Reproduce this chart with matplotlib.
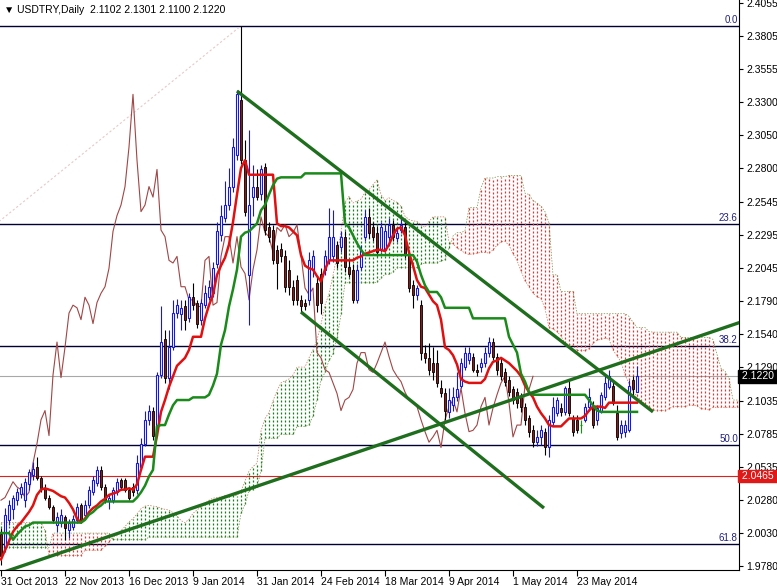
import numpy as np
import matplotlib.pyplot as plt
from matplotlib.transforms import blended_transform_factory

plt.rcParams['font.family'] = ['Liberation Sans', 'DejaVu Sans']

# daily bars, 31 Oct 2013 .. 13 Jun 2014 (bar index 0..159)
opens = [2.002, 1.992, 2.013, 2.021, 2.028, 2.033, 2.028, 2.040, 2.047, 2.053,
         2.045, 2.037, 2.030, 2.023, 2.009, 2.011, 2.015, 2.005, 2.008, 2.013,
         2.024, 2.017, 2.024, 2.034, 2.041, 2.051, 2.038, 2.027, 2.028, 2.034,
         2.043, 2.043, 2.036, 2.038, 2.036, 2.053, 2.071, 2.089, 2.096, 2.081,
         2.123, 2.150, 2.121, 2.144, 2.170, 2.169, 2.175, 2.166, 2.182, 2.178,
         2.165, 2.176, 2.182, 2.185, 2.207, 2.229, 2.242, 2.252, 2.266, 2.290,
         2.332, 2.286, 2.199, 2.258, 2.266, 2.260, 2.281, 2.235, 2.233, 2.218,
         2.219, 2.213, 2.203, 2.190, 2.195, 2.180, 2.178, 2.180, 2.203, 2.193,
         2.200, 2.203, 2.210, 2.213, 2.222, 2.220, 2.228, 2.205, 2.203, 2.180,
         2.205, 2.228, 2.243, 2.235, 2.231, 2.218, 2.218, 2.228, 2.237, 2.227,
         2.233, 2.235, 2.213, 2.191, 2.184, 2.176, 2.140, 2.136, 2.132, 2.132,
         2.113, 2.109, 2.095, 2.100, 2.106, 2.115, 2.129, 2.134, 2.137, 2.127,
         2.129, 2.132, 2.140, 2.148, 2.137, 2.132, 2.125, 2.119, 2.112, 2.110,
         2.106, 2.099, 2.090, 2.081, 2.072, 2.076, 2.080, 2.068, 2.087, 2.094,
         2.098, 2.095, 2.113, 2.090, 2.089, 2.085, 2.089, 2.099, 2.099, 2.089,
         2.096, 2.106, 2.114, 2.115, 2.094, 2.079, 2.080, 2.081, 2.119, 2.1102]
highs = [2.007, 2.022, 2.028, 2.032, 2.037, 2.041, 2.045, 2.052, 2.057, 2.061,
         2.046, 2.040, 2.032, 2.024, 2.019, 2.021, 2.017, 2.014, 2.017, 2.026,
         2.026, 2.028, 2.039, 2.046, 2.054, 2.054, 2.040, 2.032, 2.038, 2.045,
         2.045, 2.045, 2.038, 2.041, 2.062, 2.075, 2.096, 2.100, 2.099, 2.125,
         2.175, 2.157, 2.157, 2.180, 2.181, 2.180, 2.180, 2.185, 2.193, 2.180,
         2.181, 2.191, 2.195, 2.209, 2.239, 2.252, 2.270, 2.280, 2.303, 2.339,
         2.388, 2.301, 2.309, 2.282, 2.279, 2.282, 2.284, 2.239, 2.237, 2.222,
         2.223, 2.218, 2.210, 2.195, 2.199, 2.184, 2.181, 2.216, 2.218, 2.197,
         2.204, 2.218, 2.250, 2.248, 2.225, 2.232, 2.232, 2.210, 2.207, 2.207,
         2.222, 2.248, 2.250, 2.239, 2.236, 2.239, 2.237, 2.242, 2.241, 2.235,
         2.242, 2.239, 2.216, 2.195, 2.191, 2.180, 2.146, 2.147, 2.144, 2.142,
         2.119, 2.113, 2.113, 2.114, 2.125, 2.136, 2.144, 2.144, 2.140, 2.131,
         2.136, 2.144, 2.152, 2.151, 2.140, 2.136, 2.128, 2.122, 2.115, 2.113,
         2.109, 2.102, 2.093, 2.085, 2.081, 2.085, 2.083, 2.093, 2.106, 2.106,
         2.102, 2.115, 2.119, 2.093, 2.093, 2.089, 2.102, 2.113, 2.103, 2.100,
         2.110, 2.122, 2.127, 2.119, 2.100, 2.089, 2.089, 2.119, 2.122, 2.1301]
lows = [1.979, 1.989, 2.009, 2.014, 2.024, 2.030, 2.023, 2.036, 2.043, 2.043,
        2.034, 2.028, 2.021, 2.011, 2.004, 2.008, 1.998, 1.999, 2.005, 2.011,
        2.011, 2.014, 2.022, 2.032, 2.039, 2.036, 2.026, 2.021, 2.026, 2.032,
        2.036, 2.034, 2.028, 2.031, 2.033, 2.051, 2.069, 2.085, 2.074, 2.077,
        2.121, 2.117, 2.112, 2.142, 2.166, 2.157, 2.157, 2.163, 2.172, 2.159,
        2.161, 2.174, 2.180, 2.182, 2.204, 2.225, 2.239, 2.248, 2.262, 2.286,
        2.283, 2.244, 2.161, 2.244, 2.256, 2.256, 2.229, 2.224, 2.207, 2.188,
        2.209, 2.186, 2.184, 2.176, 2.176, 2.171, 2.172, 2.176, 2.197, 2.171,
        2.169, 2.199, 2.207, 2.209, 2.204, 2.216, 2.201, 2.197, 2.178, 2.178,
        2.203, 2.225, 2.227, 2.225, 2.213, 2.216, 2.216, 2.225, 2.225, 2.224,
        2.231, 2.212, 2.186, 2.174, 2.180, 2.134, 2.132, 2.123, 2.119, 2.114,
        2.106, 2.089, 2.090, 2.096, 2.103, 2.113, 2.127, 2.131, 2.125, 2.122,
        2.125, 2.129, 2.137, 2.134, 2.123, 2.119, 2.115, 2.107, 2.101, 2.098,
        2.095, 2.085, 2.076, 2.068, 2.069, 2.070, 2.062, 2.061, 2.085, 2.092,
        2.092, 2.093, 2.092, 2.077, 2.079, 2.079, 2.087, 2.096, 2.083, 2.085,
        2.094, 2.104, 2.112, 2.100, 2.074, 2.075, 2.076, 2.080, 2.108, 2.1100]
closes = [1.986, 2.017, 2.024, 2.030, 2.034, 2.038, 2.042, 2.049, 2.052, 2.045,
          2.037, 2.030, 2.023, 2.013, 2.015, 2.017, 2.007, 2.011, 2.014, 2.023,
          2.013, 2.024, 2.036, 2.043, 2.051, 2.038, 2.028, 2.030, 2.036, 2.042,
          2.038, 2.036, 2.030, 2.034, 2.056, 2.071, 2.089, 2.096, 2.077, 2.123,
          2.148, 2.121, 2.144, 2.170, 2.176, 2.174, 2.165, 2.182, 2.176, 2.162,
          2.178, 2.185, 2.190, 2.204, 2.232, 2.244, 2.252, 2.266, 2.296, 2.336,
          2.286, 2.247, 2.252, 2.266, 2.258, 2.279, 2.233, 2.228, 2.210, 2.208,
          2.213, 2.190, 2.190, 2.180, 2.180, 2.175, 2.175, 2.210, 2.213, 2.176,
          2.178, 2.213, 2.228, 2.228, 2.208, 2.228, 2.205, 2.200, 2.180, 2.203,
          2.218, 2.243, 2.231, 2.228, 2.216, 2.235, 2.232, 2.237, 2.228, 2.231,
          2.237, 2.214, 2.189, 2.184, 2.189, 2.140, 2.136, 2.127, 2.125, 2.117,
          2.109, 2.096, 2.104, 2.106, 2.112, 2.132, 2.140, 2.140, 2.127, 2.125,
          2.132, 2.140, 2.148, 2.137, 2.127, 2.122, 2.118, 2.110, 2.104, 2.102,
          2.099, 2.089, 2.080, 2.072, 2.076, 2.081, 2.068, 2.089, 2.099, 2.104,
          2.095, 2.113, 2.094, 2.080, 2.081, 2.085, 2.099, 2.106, 2.085, 2.098,
          2.108, 2.117, 2.122, 2.102, 2.076, 2.085, 2.085, 2.115, 2.112, 2.1220]

# Ichimoku lines
tenkan = [1.983, 1.990, 1.997, 2.004, 2.008, 2.011, 2.015, 2.019, 2.024, 2.032,
          2.036, 2.037, 2.036, 2.035, 2.033, 2.031, 2.030, 2.026, 2.021, 2.014,
          2.011, 2.014, 2.019, 2.022, 2.024, 2.027, 2.029, 2.032, 2.033, 2.034,
          2.036, 2.036, 2.037, 2.036, 2.040, 2.051, 2.061, 2.061, 2.061, 2.077,
          2.095, 2.104, 2.114, 2.122, 2.130, 2.133, 2.136, 2.142, 2.152, 2.152,
          2.152, 2.166, 2.176, 2.184, 2.199, 2.206, 2.212, 2.222, 2.239, 2.260,
          2.280, 2.286, 2.275, 2.275, 2.275, 2.275, 2.275, 2.275, 2.275, 2.238,
          2.236, 2.236, 2.235, 2.232, 2.229, 2.214, 2.206, 2.204, 2.203, 2.198,
          2.194, 2.203, 2.210, 2.210, 2.210, 2.210, 2.210, 2.210, 2.210, 2.212,
          2.213, 2.215, 2.216, 2.217, 2.218, 2.218, 2.217, 2.222, 2.229, 2.234,
          2.235, 2.229, 2.216, 2.206, 2.195, 2.190, 2.189, 2.184, 2.179, 2.176,
          2.165, 2.144, 2.142, 2.138, 2.131, 2.120, 2.118, 2.117, 2.117, 2.117,
          2.117, 2.120, 2.128, 2.133, 2.134, 2.136, 2.134, 2.132, 2.129, 2.126,
          2.122, 2.115, 2.110, 2.106, 2.099, 2.094, 2.090, 2.085, 2.084, 2.084,
          2.084, 2.087, 2.090, 2.090, 2.090, 2.090, 2.092, 2.096, 2.099, 2.099,
          2.099, 2.098, 2.102, 2.102, 2.102, 2.102, 2.102, 2.102, 2.102, 2.102]
kijun = ([2.003, 2.003, 2.003, 1.998, 2.002, 2.005, 2.008, 2.009] + [2.011] * 13 +
         [2.013, 2.017, 2.019, 2.022, 2.024] + [2.027] * 8 +
         [2.030, 2.034, 2.039, 2.046, 2.051, 2.084, 2.085, 2.085, 2.093, 2.100] +
         [2.104] * 4 + [2.106] * 4 +
         [2.108, 2.115, 2.124, 2.146, 2.157, 2.175, 2.188, 2.203,
          2.228, 2.231, 2.232, 2.235, 2.238, 2.248, 2.252, 2.260, 2.267, 2.272] +
         [2.273] * 6 + [2.276] * 10 + [2.238, 2.235, 2.229, 2.223, 2.218] +
         [2.214] * 13 + [2.209, 2.199, 2.191, 2.186, 2.186, 2.186, 2.182] +
         [2.174] * 7 + [2.166] * 9 + [2.152, 2.146, 2.140, 2.124, 2.118, 2.110] +
         [2.108] * 14 + [2.104, 2.100, 2.096] + [2.095] * 10)
# senkou spans as displayed (already 26 bars ahead), index 0..185
span_a = ([2.011] * 11 + [2.005] + [1.986] * 9 + [1.990] * 5 +
          [1.993, 1.9965, 2.000, 2.001, 2.005, 2.008, 2.0115, 2.014, 2.0175, 2.0215,
           2.0235, 2.024, 2.0235, 2.023, 2.022, 2.021, 2.0205, 2.0185, 2.016, 2.0125,
           2.011, 2.0135, 2.018, 2.0205, 2.023, 2.0255, 2.028, 2.0295, 2.030, 2.0305,
           2.0315, 2.0315, 2.032, 2.0315, 2.035, 2.0425, 2.050, 2.0535, 2.056, 2.0805,
           2.090, 2.0945, 2.1035, 2.111, 2.117, 2.1185, 2.120, 2.123, 2.129, 2.129,
           2.129, 2.136, 2.142, 2.1495, 2.1615, 2.176, 2.1845, 2.1985, 2.2135, 2.2315,
           2.254, 2.2585, 2.2535, 2.255, 2.2565, 2.2615, 2.2635, 2.2675, 2.271, 2.260,
           2.2555, 2.2575, 2.2555, 2.254, 2.251, 2.2435, 2.241, 2.240, 2.2395, 2.237,
           2.235, 2.2395, 2.243, 2.243, 2.243, 2.243, 2.224, 2.2225, 2.2195, 2.2175,
           2.2155, 2.2145, 2.215, 2.2155, 2.216, 2.216, 2.2155, 2.218, 2.2215, 2.224,
           2.2245, 2.2215, 2.215, 2.210, 2.202, 2.1945, 2.190, 2.185, 2.1825, 2.181,
           2.1735, 2.159, 2.158, 2.156, 2.1525, 2.147, 2.146, 2.1455, 2.1415, 2.1415,
           2.1415, 2.143, 2.147, 2.1495, 2.150, 2.151, 2.150, 2.142, 2.1375, 2.133,
           2.123, 2.1165, 2.110, 2.107, 2.1035, 2.101, 2.099, 2.0965, 2.096, 2.096,
           2.096, 2.0975, 2.099, 2.099, 2.099, 2.099, 2.100, 2.100, 2.0995, 2.0975,
           2.097, 2.0965, 2.0985, 2.0985, 2.0985, 2.0985, 2.0985, 2.0985, 2.0985, 2.0985])
span_b = ([1.992] * 13 + [2.003] * 15 + [1.998] * 9 + [2.000] * 23 +
          [2.018, 2.025, 2.035, 2.036, 2.038, 2.050, 2.075, 2.075, 2.075, 2.075,
           2.078, 2.078, 2.078, 2.078, 2.084, 2.084, 2.084, 2.085, 2.092, 2.104,
           2.119, 2.125, 2.134, 2.139, 2.151, 2.169] + [2.193] * 8 +
          [2.1935, 2.1965, 2.1995, 2.1995, 2.201] + [2.2045] * 6 + [2.207] +
          [2.208] * 4 + [2.2095, 2.2105, 2.2195, 2.2285, 2.231, 2.231, 2.2325] +
          [2.250] * 3 + [2.265] + [2.2725] * 3 + [2.2735] * 3 + [2.2745] * 4 +
          [2.261, 2.260, 2.2555, 2.2535, 2.251, 2.247, 2.2385, 2.199, 2.199] +
          [2.1865] * 4 + [2.1695] * 13 + [2.1675, 2.163, 2.159, 2.159, 2.159, 2.156] +
          [2.1555] * 7 + [2.1515] * 8 +
          [2.150, 2.1385, 2.128, 2.126, 2.1205, 2.104, 2.104, 2.1025])

date_ticks = [0, 16, 32, 48, 64, 80, 96, 112, 128, 144]
date_labels = ['31 Oct 2013', '22 Nov 2013', '16 Dec 2013', '9 Jan 2014', '31 Jan 2014',
               '24 Feb 2014', '18 Mar 2014', '9 Apr 2014', '1 May 2014', '23 May 2014']
price_ticks = [2.4055, 2.3805, 2.3555, 2.3300, 2.3050, 2.2800, 2.2545, 2.2295, 2.2045,
               2.1790, 2.1540, 2.1290, 2.1035, 2.0785, 2.0535, 2.0280, 2.0030, 1.9780]

fib_high = 2.388
fib_low = 1.752
fib_start_bar = -199
fib_end_bar = 60
fib_levels = [0.0, 23.6, 38.2, 50.0, 61.8]
bid_price = 2.1220
alert_price = 2.0465
# hand-drawn trend lines: (bar, price) anchors
trend_lines = [((59, 2.3385), (163, 2.095)),
               ((75, 2.1708), (135.75, 2.022)),
               ((0, 1.9727), (185, 2.1632))]

o = np.array(opens)
h = np.array(highs)
l = np.array(lows)
c = np.array(closes)
x = np.arange(len(c))

fig = plt.figure(figsize=(7.77, 5.86), dpi=100)
ax = fig.add_axes([0, 16 / 586, 739 / 777, 570 / 586])
ax.set_xlim(-0.25, 184.5)
ax.set_ylim(1.9750, 2.4076)

# fibonacci retracement
for lev in fib_levels:
    p = fib_high - (fib_high - fib_low) * lev / 100
    ax.axhline(p, color='#000033', lw=1, zorder=1)
    ax.text(184.2, p + 0.0008, '%.1f' % lev, ha='right', va='bottom',
            fontsize=7, color='#202080', zorder=6)
ax.plot([fib_start_bar, fib_end_bar], [fib_low, fib_high], color='#e6c9c9',
        lw=0.8, ls=(0, (2, 2)), zorder=1)

ax.axhline(bid_price, color='#a8a8a8', lw=0.8, zorder=1)
ax.axhline(alert_price, color='#e02020', lw=0.8, zorder=1)

# kumo
a = np.array(span_a)
b = np.array(span_b)
n = min(len(a), len(b))
xs = np.arange(n)
a = a[:n]
b = b[:n]
bull = a >= b
ax.vlines(xs[bull], b[bull], a[bull], colors='#1d7a1d', linestyles=(0, (1.6, 1.6)),
          lw=0.9, zorder=2)
ax.vlines(xs[~bull], a[~bull], b[~bull], colors='#e03535', linestyles=(0, (1.6, 1.6)),
          lw=0.9, zorder=2)
ax.plot(xs, a, color='#c07050', lw=0.5, ls=(0, (2, 2)), zorder=2)
ax.plot(xs, b, color='#708f40', lw=0.5, ls=(0, (2, 2)), zorder=2)

# chikou span
ax.plot(x[26:] - 26, c[26:], color='#a04646', lw=0.8, zorder=3)

# candles
up = c > o
dn = c < o
dj = c == o
ax.vlines(x[up], l[up], h[up], colors='#1a1acd', lw=0.8, zorder=4)
ax.vlines(x[dn], l[dn], h[dn], colors='black', lw=0.8, zorder=4)
ax.vlines(x[dj], l[dj], h[dj], colors='#00a000', lw=0.8, zorder=4)
ax.hlines(c[dj], x[dj] - 0.35, x[dj] + 0.35, colors='#00a000', lw=0.8, zorder=4)
ax.bar(x[up], np.maximum(c[up] - o[up], 0.0008), bottom=o[up], width=0.6,
       facecolor='white', edgecolor='#1a1acd', lw=0.8, zorder=5)
ax.bar(x[dn], np.maximum(o[dn] - c[dn], 0.0008), bottom=c[dn], width=0.6,
       facecolor='#8b1a1a', edgecolor='black', lw=0.6, zorder=5)

# tenkan / kijun
ax.plot(np.arange(len(tenkan)), tenkan, color='#e01010', lw=1.8, zorder=6)
ax.plot(np.arange(len(kijun)), kijun, color='#1a8a1a', lw=1.8, zorder=6)

for (x0, y0), (x1, y1) in trend_lines:
    ax.plot([x0, x1], [y0, y1], color='#1e6e1e', lw=2.4, zorder=7,
            solid_capstyle='butt')

# axes styling
for s in ['left', 'top']:
    ax.spines[s].set_visible(False)
ax.spines['right'].set_color('black')
ax.spines['bottom'].set_color('black')
ax.yaxis.tick_right()
ax.set_yticks(price_ticks)
ax.set_yticklabels(['%.4f' % p for p in price_ticks])
ax.set_xticks(date_ticks)
ax.set_xticklabels(date_labels)
for lab in ax.get_xticklabels():
    lab.set_horizontalalignment('left')
ax.tick_params(axis='y', direction='out', length=3, width=0.8, labelsize=7.5, pad=2)
ax.tick_params(axis='x', direction='out', length=4, width=0.8, labelsize=7.5, pad=1)

tr = blended_transform_factory(ax.transAxes, ax.transData)
ax.text(1.0, bid_price, ' %.4f ' % bid_price, transform=tr, color='white', fontsize=7.5,
        va='center', ha='left', clip_on=False, zorder=10,
        bbox=dict(boxstyle='square,pad=0.12', fc='black', ec='black'))
ax.text(1.0, alert_price, ' %.4f ' % alert_price, transform=tr, color='white', fontsize=7.5,
        va='center', ha='left', clip_on=False, zorder=10,
        bbox=dict(boxstyle='square,pad=0.12', fc='#e01818', ec='#e01818'))

fig.text(4 / 777, 1 - 10 / 586, '\u25bc USDTRY,Daily  2.1102 2.1301 2.1100 2.1220',
         fontsize=7.5, va='center', ha='left')

fig.savefig('out.png', dpi=100)
